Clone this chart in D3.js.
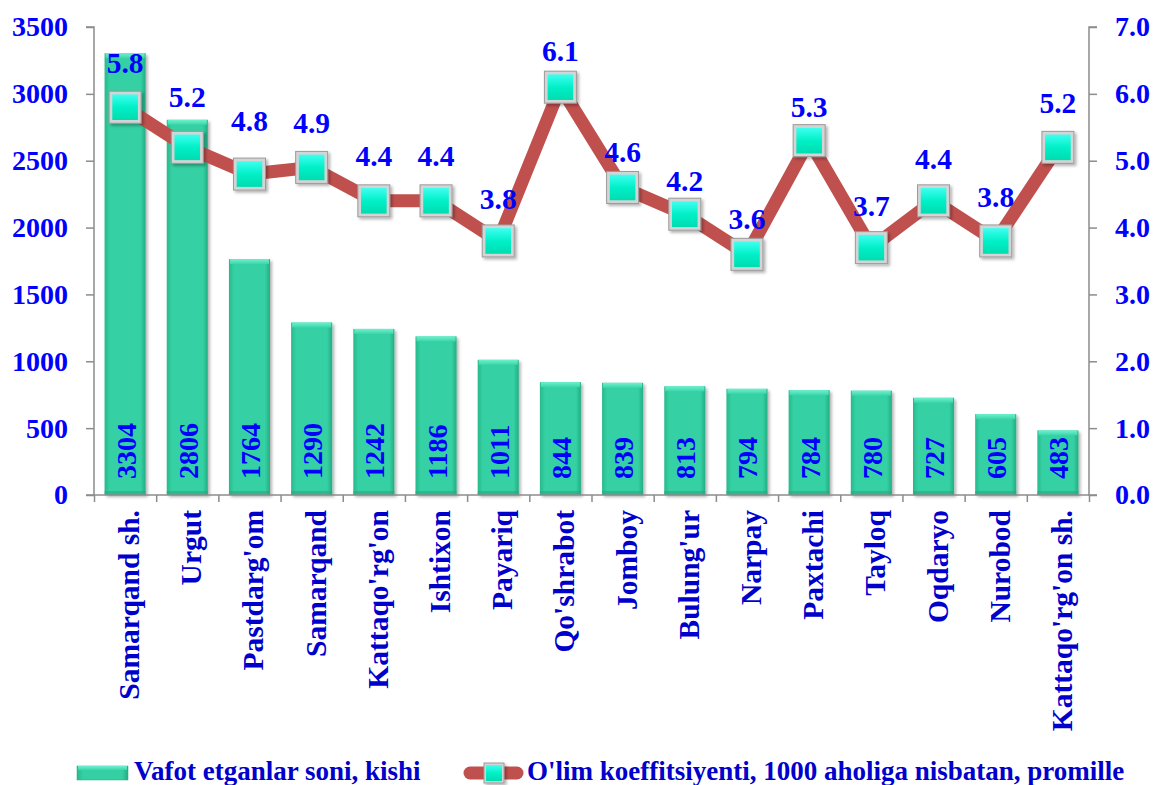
<!DOCTYPE html>
<html>
<head>
<meta charset="utf-8">
<script src="https://cdn.jsdelivr.net/npm/d3@7"></script>
<style>
  html, body { margin: 0; padding: 0; background: #fff; }
  svg { display: block; }
  text { font-family: "Liberation Serif", "Times New Roman", serif; font-weight: bold; }
</style>
</head>
<body>
<svg id="chart" width="1154" height="785"></svg>
<script>
const categories = ["Samarqand sh.", "Urgut", "Pastdarg'om", "Samarqand", "Kattaqo'rg'on", "Ishtixon", "Payariq", "Qo'shrabot", "Jomboy", "Bulung'ur", "Narpay", "Paxtachi", "Tayloq", "Oqdaryo", "Nurobod", "Kattaqo'rg'on sh."];
const deaths = [3304, 2806, 1764, 1290, 1242, 1186, 1011, 844, 839, 813, 794, 784, 780, 727, 605, 483];
const rate = [5.8, 5.2, 4.8, 4.9, 4.4, 4.4, 3.8, 6.1, 4.6, 4.2, 3.6, 5.3, 3.7, 4.4, 3.8, 5.2];
const leftTicks = [0, 500, 1000, 1500, 2000, 2500, 3000, 3500];
const rightTicks = [0, 1, 2, 3, 4, 5, 6, 7];
const seriesNames = ["Vafot etganlar soni, kishi", "O'lim koeffitsiyenti, 1000 aholiga nisbatan, promille"];

// layout: vertical offset of each rate label's baseline above its marker (as placed in the original)
const rateLabelOffset = [34, 40, 43, 34, 35, 35, 32, 26, 25, 23, 25, 24, 32, 32, 34, 34];

const svg = d3.select("#chart");
const L = 94, R = 1089, T = 27, B = 495;
const blue = "#0000ff", darkBlue = "#0000cc", axisCol = "#8c8c8c";

const x = d3.scaleBand().domain(categories).range([L, R]).paddingInner(0.34).paddingOuter(0.17);
const y0 = d3.scaleLinear().domain([0, 3500]).range([B, T]);
const y1 = d3.scaleLinear().domain([0, 7]).range([B, T]);

const defs = svg.append("defs");
const bg = defs.append("linearGradient").attr("id", "barGrad").attr("x1", 0).attr("x2", 1).attr("y1", 0).attr("y2", 0);
bg.append("stop").attr("offset", "0%").attr("stop-color", "#27b98c");
bg.append("stop").attr("offset", "12%").attr("stop-color", "#34d0a3");
bg.append("stop").attr("offset", "88%").attr("stop-color", "#34d0a3");
bg.append("stop").attr("offset", "100%").attr("stop-color", "#24ad83");
const tg = defs.append("linearGradient").attr("id", "topGrad").attr("x1", 0).attr("x2", 0).attr("y1", 0).attr("y2", 1);
tg.append("stop").attr("offset", "0%").attr("stop-color", "#6ff0d0");
tg.append("stop").attr("offset", "100%").attr("stop-color", "#3ad6a8");
const mg = defs.append("linearGradient").attr("id", "mkGrad").attr("x1", 0).attr("x2", 0).attr("y1", 0).attr("y2", 1);
mg.append("stop").attr("offset", "0%").attr("stop-color", "#3ffff0");
mg.append("stop").attr("offset", "50%").attr("stop-color", "#00f0c8");
mg.append("stop").attr("offset", "100%").attr("stop-color", "#00dcb0");
const flt = defs.append("filter").attr("id", "shadow").attr("x", "-20%").attr("y", "-20%").attr("width", "150%").attr("height", "150%");
flt.append("feDropShadow").attr("dx", 2).attr("dy", 2).attr("stdDeviation", 1.5).attr("flood-color", "#000").attr("flood-opacity", 0.3);

// Bars
const bars = svg.append("g");
const bw = x.bandwidth();
categories.forEach((c, i) => {
  const gx = x(c), gy = y0(deaths[i]), h = B - gy;
  bars.append("rect").attr("x", gx).attr("y", gy).attr("width", bw).attr("height", h)
    .attr("fill", "url(#barGrad)").attr("filter", "url(#shadow)");
  bars.append("rect").attr("x", gx + 1).attr("y", gy).attr("width", bw - 2).attr("height", 5)
    .attr("fill", "url(#topGrad)");
  bars.append("rect").attr("x", gx).attr("y", B - 4).attr("width", bw).attr("height", 4)
    .attr("fill", "#2aa880").attr("opacity", 0.6);
});

// Axes
const gl = svg.append("g").attr("transform", `translate(${L},0)`)
  .call(d3.axisLeft(y0).tickValues(leftTicks).tickSize(8).tickPadding(18).tickFormat(d3.format("d")));
const gr = svg.append("g").attr("transform", `translate(${R},0)`)
  .call(d3.axisRight(y1).tickValues(rightTicks).tickSize(8).tickPadding(18).tickFormat(d3.format(".1f")));
const xb = d3.scaleLinear().domain([0, categories.length]).range([L, R]);
const gb = svg.append("g").attr("transform", `translate(0,${B})`)
  .call(d3.axisBottom(xb).tickValues(d3.range(categories.length + 1)).tickSize(7).tickFormat(""));
[gl, gr, gb].forEach(g => {
  g.select(".domain").attr("stroke", axisCol).attr("stroke-width", 1.5);
  g.selectAll(".tick line").attr("stroke", axisCol).attr("stroke-width", 1.5);
});
gl.select(".domain").attr("d", `M-8,${T}H0V${B}H-8`);
gr.select(".domain").attr("d", `M8,${T}H0V${B}H8`);
gb.select(".domain").attr("d", `M${L},0H${R}`);
[gl, gr].forEach(g => g.selectAll(".tick text").attr("fill", blue).attr("font-size", 28)
  .attr("font-family", "Liberation Serif").attr("font-weight", "bold"));

// Category labels
svg.append("g").selectAll("text").data(categories).join("text")
  .attr("transform", d => `translate(${x(d) + bw / 2 + 4},510) rotate(-90)`)
  .attr("text-anchor", "end").attr("dominant-baseline", "central")
  .attr("font-size", 29.5).attr("fill", darkBlue).text(d => d);

// Bar value labels
svg.append("g").selectAll("text").data(deaths).join("text")
  .attr("transform", (d, i) => `translate(${x(categories[i]) + bw / 2 + 1},479) rotate(-90)`)
  .attr("text-anchor", "start").attr("dominant-baseline", "central")
  .attr("font-size", 28).attr("fill", blue).text(d => d);

// Line
const cx = (c) => x(c) + bw / 2;
const line = d3.line().x((d, i) => cx(categories[i])).y(d => y1(d));
svg.append("path").datum(rate).attr("d", line).attr("fill", "none")
  .attr("stroke", "#c0504d").attr("stroke-width", 13).attr("stroke-linejoin", "round");

function marker(g, px, py, s) {
  g.append("rect").attr("x", px - s / 2).attr("y", py - s / 2).attr("width", s).attr("height", s)
    .attr("fill", "#d4d4d4").attr("stroke", "#9a9a9a").attr("stroke-width", 1).attr("filter", "url(#shadow)");
  const inn = s * 0.8;
  g.append("rect").attr("x", px - inn / 2).attr("y", py - inn / 2).attr("width", inn).attr("height", inn)
    .attr("fill", "url(#mkGrad)");
}
const mk = svg.append("g");
rate.forEach((v, i) => marker(mk, cx(categories[i]), y1(v), 32));

// Rate labels
svg.append("g").selectAll("text").data(rate).join("text")
  .attr("x", (d, i) => cx(categories[i])).attr("y", (d, i) => y1(d) - rateLabelOffset[i])
  .attr("text-anchor", "middle").attr("font-size", 29.5).attr("fill", blue).text(d => d3.format(".1f")(d));

// Legend
const lg = svg.append("g");
lg.append("rect").attr("x", 77).attr("y", 766).attr("width", 51).attr("height", 14).attr("fill", "url(#barGrad)")
  .attr("stroke", "#2aa880").attr("stroke-width", 0.5);
lg.append("rect").attr("x", 78).attr("y", 766).attr("width", 49).attr("height", 4).attr("fill", "url(#topGrad)");
lg.append("text").attr("x", 134).attr("y", 780).attr("font-size", 27).attr("fill", darkBlue).text(seriesNames[0]);
lg.append("line").attr("x1", 470).attr("x2", 517).attr("y1", 773).attr("y2", 773)
  .attr("stroke", "#c0504d").attr("stroke-width", 13).attr("stroke-linecap", "round");
marker(lg, 494, 773, 20);
lg.append("text").attr("x", 527).attr("y", 780).attr("font-size", 27).attr("fill", darkBlue).text(seriesNames[1]);
</script>
</body>
</html>
